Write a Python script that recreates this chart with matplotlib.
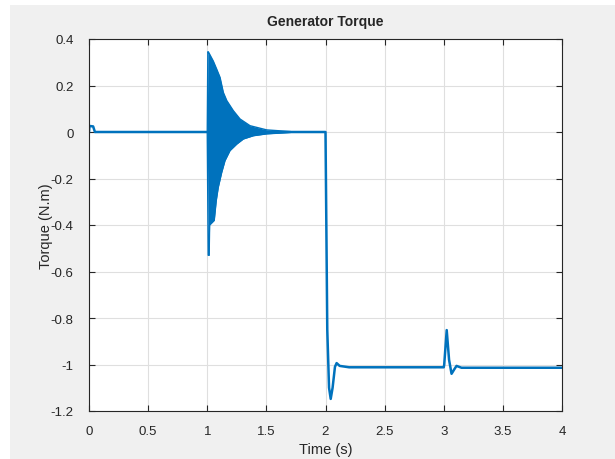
import matplotlib
matplotlib.use("Agg")
import matplotlib.pyplot as plt
from matplotlib.patches import Rectangle

plt.rcParams['font.family'] = ['Liberation Sans', 'DejaVu Sans']

# main torque trace (time s, torque N.m)
t_main = [0.0, 0.004, 0.035, 0.05, 1.0, 1.7, 2.0, 2.015, 2.03, 2.044, 2.06,
          2.08, 2.094, 2.12, 2.2, 3.0, 3.004, 3.025, 3.045, 3.066, 3.09,
          3.108, 3.15, 4.0]
torque_main = [0.0, 0.026, 0.024, 0.0, 0.0, 0.0, 0.0, -0.85, -1.10, -1.148,
               -1.10, -1.01, -0.994, -1.006, -1.012, -1.012, -1.0, -0.852,
               -0.98, -1.04, -1.02, -1.006, -1.014, -1.014]

# oscillation envelope after the 1 s event
t_upper = [1.0, 1.005, 1.009, 1.051, 1.080, 1.108, 1.136, 1.165, 1.220,
           1.277, 1.362, 1.503, 1.70]
upper = [0.0, 0.345, 0.345, 0.305, 0.27, 0.235, 0.17, 0.135, 0.092, 0.056,
         0.027, 0.009, 0.002]
t_lower = [1.0, 1.008, 1.016, 1.02, 1.059, 1.076, 1.093, 1.122, 1.150, 1.192,
           1.249, 1.305, 1.390, 1.503, 1.70]
lower = [0.0, -0.53, -0.53, -0.40, -0.38, -0.295, -0.238, -0.174, -0.123,
         -0.080, -0.052, -0.030, -0.016, -0.008, -0.002]

xticks = [0, 0.5, 1, 1.5, 2, 2.5, 3, 3.5, 4]
xticklabels = ['0', '0.5', '1', '1.5', '2', '2.5', '3', '3.5', '4']
yticks = [-1.2, -1, -0.8, -0.6, -0.4, -0.2, 0, 0.2, 0.4]
yticklabels = ['-1.2', '-1', '-0.8', '-0.6', '-0.4', '-0.2', '0', '0.2', '0.4']

blue = '#0072BD'
dark = '#262626'

fig = plt.figure(figsize=(6.15, 4.6), dpi=100)
fig.patch.set_facecolor('white')
fig.patches.append(Rectangle((10 / 615, 0), 1, (460 - 6) / 460,
                             transform=fig.transFigure, facecolor='#f0f0f0',
                             edgecolor='none', zorder=-10))

ax = fig.add_axes([89 / 615, 48 / 460, (562 - 89) / 615, (412 - 40) / 460])
ax.set_facecolor('white')

ax.plot(t_upper, upper, color=blue, lw=1.0)
ax.plot(t_lower, lower, color=blue, lw=1.0)
ax.fill_between(t_upper, upper, 0, color=blue, lw=0)
ax.fill_between(t_lower, lower, 0, color=blue, lw=0)
ax.plot(t_main, torque_main, color=blue, lw=1.8, solid_joinstyle='round')

ax.set_xlim(0, 4)
ax.set_ylim(-1.2, 0.4)
ax.set_xticks(xticks)
ax.set_xticklabels(xticklabels)
ax.set_yticks(yticks)
ax.set_yticklabels(yticklabels)
ax.grid(True, color='#dfdfdf', lw=0.8)
ax.set_axisbelow(True)
ax.tick_params(direction='in', top=True, right=True, length=4, width=0.8,
               colors=dark, labelsize=9.5)
ax.tick_params(axis='x', pad=10)
ax.tick_params(axis='y', pad=11)
for s in ax.spines.values():
    s.set_color(dark)
    s.set_linewidth(0.8)

ax.set_title('Generator Torque', fontsize=10, fontweight='bold', color=dark,
             y=(412 - 22) / 372, pad=0, va='center')
ax.set_xlabel('Time (s)', fontsize=10.5, color=dark)
ax.set_ylabel('Torque (N.m)', fontsize=10.5, color=dark)
ax.xaxis.set_label_coords(0.5, (412 - 450) / 372)
ax.yaxis.set_label_coords((46 - 89) / 473, 0.5)
ax.xaxis.label.set_va('center')
ax.yaxis.label.set_va('center')

fig.savefig('out.png', dpi=100, facecolor=fig.get_facecolor())
